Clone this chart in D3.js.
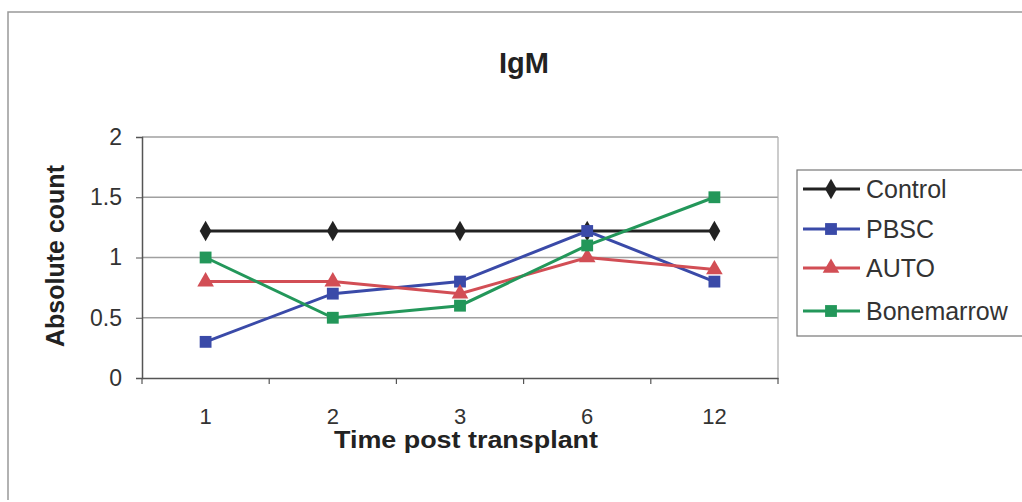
<!DOCTYPE html>
<html><head><meta charset="utf-8">
<script src="https://cdn.jsdelivr.net/npm/d3@7"></script>
<style>body{margin:0;background:#fff}svg{display:block}text{font-family:"Liberation Sans",Arial,sans-serif}</style>
</head><body><svg id="c" width="1022" height="502"></svg>
<script>
const categories = ["1","2","3","6","12"];
const yTicks = [0,0.5,1,1.5,2];
const control = [1.22,1.22,1.22,1.22,1.22];
const pbsc = [0.3,0.7,0.8,1.22,0.8];
const auto = [0.8,0.8,0.7,1.0,0.9];
const bonemarrow = [1.0,0.5,0.6,1.1,1.5];
const seriesNames = ["Control","PBSC","AUTO","Bonemarrow"];
const series = [
  {name:"Control", values:control, color:"#222222", marker:"diamond"},
  {name:"PBSC", values:pbsc, color:"#3a4aa8", marker:"square"},
  {name:"AUTO", values:auto, color:"#d24e55", marker:"triangle"},
  {name:"Bonemarrow", values:bonemarrow, color:"#23975a", marker:"square"}
];

const svg = d3.select("#c");
const m = {l:142, r:778, t:137, b:378};
const x = d3.scaleBand().domain(categories).range([m.l,m.r]);
const y = d3.scaleLinear().domain([0,2]).range([m.b,m.t]);

// outer border
svg.append("path").attr("d","M8,500 L8,12 L1022,12").attr("fill","none").attr("stroke","#999").attr("stroke-width",1.5);

// gridlines
svg.append("g").selectAll("line").data(yTicks.filter(d=>d>0)).join("line")
  .attr("x1",m.l).attr("x2",m.r).attr("y1",d=>y(d)).attr("y2",d=>y(d))
  .attr("stroke","#a0a0a0").attr("stroke-width",1.5);
// right border
svg.append("line").attr("x1",m.r).attr("x2",m.r).attr("y1",m.t).attr("y2",m.b).attr("stroke","#aaa").attr("stroke-width",1.2);

// y axis
const ya = svg.append("g").attr("transform",`translate(${m.l},0)`)
  .call(d3.axisLeft(y).tickValues(yTicks).tickSize(6).tickPadding(14).tickFormat(d3.format("")));
ya.select(".domain").attr("stroke","#555").attr("stroke-width",1.5);
ya.selectAll(".tick line").attr("stroke","#555");
ya.selectAll("text").attr("font-size",23).attr("fill","#333");

// x axis
const xa = svg.append("g").attr("transform",`translate(0,${m.b})`)
  .call(d3.axisBottom(x).tickSize(0).tickPadding(30));
xa.select(".domain").attr("stroke","#555").attr("stroke-width",1.5);
xa.selectAll("text").attr("font-size",22).attr("fill","#333");
const bounds = categories.map(c=>x(c)).concat([m.r]);
svg.append("g").selectAll("line").data(bounds).join("line")
  .attr("x1",d=>d).attr("x2",d=>d).attr("y1",m.b).attr("y2",m.b+6).attr("stroke","#555").attr("stroke-width",1.2);

function sym(t){
  if(t==="diamond") return d3.symbol().type(d3.symbolDiamond).size(120)();
  if(t==="triangle") return d3.symbol().type(d3.symbolTriangle).size(120)();
  return d3.symbol().type(d3.symbolSquare).size(140)();
}
const line = d3.line().x((d,i)=>x(categories[i])+x.bandwidth()/2).y(d=>y(d));
series.forEach(s=>{
  svg.append("path").datum(s.values).attr("d",line).attr("fill","none").attr("stroke",s.color).attr("stroke-width",3);
  svg.append("g").selectAll("path").data(s.values).join("path")
    .attr("d",sym(s.marker))
    .attr("transform",(d,i)=>`translate(${x(categories[i])+x.bandwidth()/2},${y(d)})`)
    .attr("fill",s.color);
});

// title
svg.append("text").attr("x",524).attr("y",73).attr("text-anchor","middle").attr("font-size",29).attr("font-weight","bold").attr("fill","#222").text("IgM");
// axis titles
svg.append("text").attr("x",466).attr("y",448).attr("text-anchor","middle").attr("font-size",23).attr("font-weight","bold").attr("fill","#222")
  .attr("textLength",264).attr("lengthAdjust","spacingAndGlyphs").text("Time post transplant");
svg.append("text").attr("transform","translate(64,256) rotate(-90)").attr("text-anchor","middle").attr("font-size",25).attr("font-weight","bold").attr("fill","#222").text("Absolute count");

// legend
const lg = svg.append("g");
lg.append("rect").attr("x",797).attr("y",170).attr("width",240).attr("height",166).attr("fill","#fff").attr("stroke","#777").attr("stroke-width",1.2);
const rowY = [189,229,268,311];
series.forEach((s,i)=>{
  const yy = rowY[i];
  lg.append("line").attr("x1",803).attr("x2",860).attr("y1",yy).attr("y2",yy).attr("stroke",s.color).attr("stroke-width",3);
  lg.append("path").attr("d",sym(s.marker)).attr("transform",`translate(831,${yy})`).attr("fill",s.color);
  lg.append("text").attr("x",866).attr("y",yy+9).attr("font-size",25).attr("fill","#333").text(seriesNames[i]);
});
</script></body></html>
